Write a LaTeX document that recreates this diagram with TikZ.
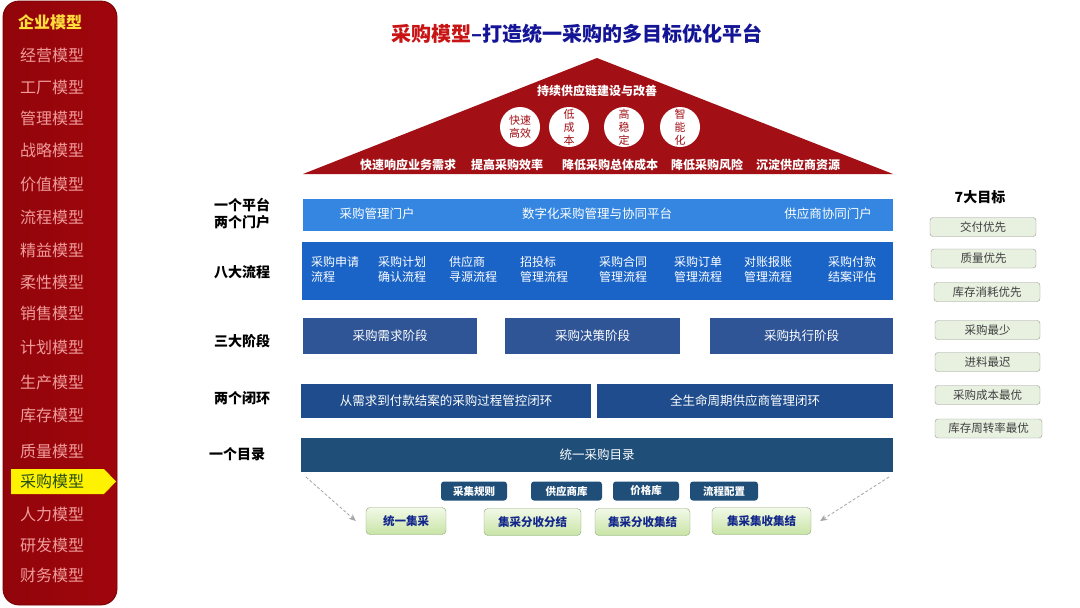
\documentclass[tikz,border=0pt]{standalone}
\usepackage{fontspec}
\setmainfont{Noto Sans CJK SC}
\usetikzlibrary{arrows.meta}
\definecolor{sidetxt}{RGB}{240,155,155}
\definecolor{sideyel}{RGB}{255,222,60}
\definecolor{sideleft}{RGB}{145,5,10}
\definecolor{sidemid}{RGB}{200,16,22}
\definecolor{sideright}{RGB}{160,6,12}
\definecolor{roofred}{RGB}{162,16,22}
\definecolor{titlered}{RGB}{200,20,20}
\definecolor{titleblue}{RGB}{20,20,150}
\definecolor{platblue}{RGB}{52,134,224}
\definecolor{flowblue}{RGB}{26,100,200}
\definecolor{stageblue}{RGB}{47,85,151}
\definecolor{loopblue}{RGB}{30,76,140}
\definecolor{catblue}{RGB}{31,78,121}
\definecolor{goalfill}{RGB}{232,240,224}
\definecolor{goaldraw}{RGB}{150,155,150}
\definecolor{greentop}{RGB}{242,249,232}
\definecolor{greenbot}{RGB}{200,228,165}
\definecolor{greendraw}{RGB}{140,165,120}
\definecolor{greentxt}{RGB}{20,40,140}
\newcommand\fsz[1]{\fontsize{#1}{#1}\selectfont}
\tikzset{
  x=1pt, y=-1pt,
  sideitem/.style={anchor=west, text=sidetxt, font=\fsz{16}, inner sep=0},
  rowlabel/.style={font=\bfseries\fontsize{14}{17}\selectfont, align=center, inner sep=0, text=black},
  bar/.style={minimum height=#1, inner sep=0, text=white, font=\fsz{12.5}},
  flowtxt/.style={anchor=north west, align=left, text=white, font=\fontsize{12}{15}\selectfont, inner sep=0},
  roofcircle/.style={circle, fill=white, minimum size=40pt, inner sep=0, text=roofred, align=center, font=\fontsize{11}{13}\selectfont},
  rooftxt/.style={text=white, font=\bfseries\fsz{12}, inner sep=0},
  darkbox/.style={fill=catblue, rounded corners=3pt, text=white, font=\bfseries\fsz{10.5}, inner sep=0, minimum height=19pt},
  greenbox/.style={top color=greentop, bottom color=greenbot, draw=greendraw, rounded corners=4pt, text=greentxt, font=\bfseries\fsz{11.5}, inner sep=0, minimum height=27pt},
  goalbox/.style={fill=goalfill, draw=goaldraw, rounded corners=3pt, text=black!75, font=\fsz{11.5}, inner sep=0, minimum height=19pt},
  dasharrow/.style={densely dashed, draw=gray!70, line width=0.8pt, -{Stealth[length=7pt,width=6pt]}}
}
\begin{document}
\begin{tikzpicture}
\useasboundingbox (0,0) rectangle (1080,608);
\fill[white] (0,0) rectangle (1080,608);
% sidebar
\shade[rounded corners=16pt, left color=sideleft, middle color=sidemid, right color=sideright] (3,1) rectangle (117,605);
\draw[red!45!black, rounded corners=16pt, line width=0.8pt] (3,1) rectangle (117,605);
\node[sideitem, text=sideyel, font=\bfseries\fsz{16}] (s1) at (18,22) {企业模型};
\node[sideitem] (s2) at (20,55) {经营模型};
\node[sideitem] (s3) at (20,87) {工厂模型};
\node[sideitem] (s4) at (20,118) {管理模型};
\node[sideitem] (s5) at (20,150) {战略模型};
\node[sideitem] (s6) at (20,184) {价值模型};
\node[sideitem] (s7) at (20,217) {流程模型};
\node[sideitem] (s8) at (20,250) {精益模型};
\node[sideitem] (s9) at (20,282) {柔性模型};
\node[sideitem] (s10) at (20,313) {销售模型};
\node[sideitem] (s11) at (20,347) {计划模型};
\node[sideitem] (s12) at (20,382) {生产模型};
\node[sideitem] (s13) at (20,415) {库存模型};
\node[sideitem] (s14) at (20,451) {质量模型};
\fill[yellow] (11,469) -- (104,469) -- (116,481.5) -- (104,494) -- (11,494) -- cycle;
\node[sideitem, text={rgb,255:red,40;green,80;blue,20}] (s15) at (20,481) {采购模型};
\node[sideitem] (s16) at (20,514) {人力模型};
\node[sideitem] (s17) at (20,545) {研发模型};
\node[sideitem] (s18) at (20,575) {财务模型};
% title
\node[inner sep=0, font=\bfseries\fsz{20}] (title) at (577,34) {\textcolor{titlered}{采购模型}\textcolor{titleblue}{–打造统一采购的多目标优化平台}};
% roof
\fill[roofred] (303,174) -- (597,58) -- (893,174) -- cycle;
\node[rooftxt] (r0) at (597,91) {持续供应链建设与改善};
\node[roofcircle] (c1) at (520,127) {快速\\高效};
\node[roofcircle] (c2) at (569,127) {低\\成\\本};
\node[roofcircle] (c3) at (624,127) {高\\稳\\定};
\node[roofcircle] (c4) at (680,127) {智\\能\\化};
\node[rooftxt] (r1) at (408,165) {快速响应业务需求};
\node[rooftxt] (r2) at (507,165) {提高采购效率};
\node[rooftxt] (r3) at (610,165) {降低采购总体成本};
\node[rooftxt] (r4) at (707,165) {降低采购风险};
\node[rooftxt] (r5) at (798,165) {沉淀供应商资源};
% row labels
\node[rowlabel] (l1) at (242,214) {一个平台\\两个门户};
\node[rowlabel] (l2) at (242,272) {八大流程};
\node[rowlabel] (l3) at (242,341) {三大阶段};
\node[rowlabel] (l4) at (242,398) {两个闭环};
\node[rowlabel] (l5) at (237,454) {一个目录};
% platform
\node[bar=32pt, fill=platblue, minimum width=590pt] (plat) at (598,215) {};
\node[text=white, font=\fsz{12.5}, inner sep=0] (p1) at (377,214) {采购管理门户};
\node[text=white, font=\fsz{12.5}, inner sep=0] (p2) at (597,214) {数字化采购管理与协同平台};
\node[text=white, font=\fsz{12.5}, inner sep=0] (p3) at (828,214) {供应商协同门户};
% flows
\node[bar=58pt, fill=flowblue, minimum width=591pt] (flow) at (597.5,271) {};
\node[flowtxt] (f1) at (311,256) {采购申请\\流程};
\node[flowtxt] (f2) at (378,256) {采购计划\\确认流程};
\node[flowtxt] (f3) at (449,256) {供应商\\寻源流程};
\node[flowtxt] (f4) at (520,256) {招投标\\管理流程};
\node[flowtxt] (f5) at (599,256) {采购合同\\管理流程};
\node[flowtxt] (f6) at (674,256) {采购订单\\管理流程};
\node[flowtxt] (f7) at (744,256) {对账报账\\管理流程};
\node[flowtxt] (f8) at (828,256) {采购付款\\结案评估};
% stages
\node[bar=36pt, fill=stageblue, minimum width=174pt] (st1) at (390,336) {采购需求阶段};
\node[bar=36pt, fill=stageblue, minimum width=175pt] (st2) at (592.5,336) {采购决策阶段};
\node[bar=36pt, fill=stageblue, minimum width=183pt] (st3) at (801.5,336) {采购执行阶段};
% loops
\node[bar=34pt, fill=loopblue, minimum width=290pt] (lp1) at (446,401) {从需求到付款结案的采购过程管控闭环};
\node[bar=34pt, fill=loopblue, minimum width=296pt] (lp2) at (745,401) {全生命周期供应商管理闭环};
% catalog
\node[bar=34pt, fill=catblue, minimum width=592pt] (cat) at (597,455) {统一采购目录};
% small dark boxes
\node[darkbox, minimum width=66pt] (d1) at (474,491) {采集规则};
\node[darkbox, minimum width=71pt] (d2) at (566.5,491) {供应商库};
\node[darkbox, minimum width=66pt] (d3) at (646,491) {价格库};
\node[darkbox, minimum width=68pt] (d4) at (724,491) {流程配置};
% green boxes
\node[greenbox, minimum width=80pt] (g1) at (406,521) {统一集采};
\node[greenbox, minimum width=97pt] (g2) at (532.5,522) {集采分收分结};
\node[greenbox, minimum width=95pt] (g3) at (642.5,522) {集采分收集结};
\node[greenbox, minimum width=99pt] (g4) at (761.5,521) {集采集收集结};
% dashed arrows
\coordinate (a1) at (306,477);
\coordinate (a2) at (889,477);
\draw[dasharrow] (a1) -- ([xshift=-10pt]g1.west);
\draw[dasharrow] (a2) -- ([xshift=9pt]g4.east);
% goals
\node[font=\bfseries\fsz{14}, inner sep=0] (goal) at (980,197) {7大目标};
\node[goalbox, minimum width=106pt] (t1) at (983,227) {交付优先};
\node[goalbox, minimum width=105pt] (t2) at (983.5,258.5) {质量优先};
\node[goalbox, minimum width=106pt] (t3) at (987,292) {库存消耗优先};
\node[goalbox, minimum width=105pt] (t4) at (987.5,330) {采购最少};
\node[goalbox, minimum width=105pt] (t5) at (987.5,362) {进料最迟};
\node[goalbox, minimum width=105pt] (t6) at (987.5,395) {采购成本最优};
\node[goalbox, minimum width=107pt] (t7) at (988.5,428.5) {库存周转率最优};
\end{tikzpicture}
\end{document}
